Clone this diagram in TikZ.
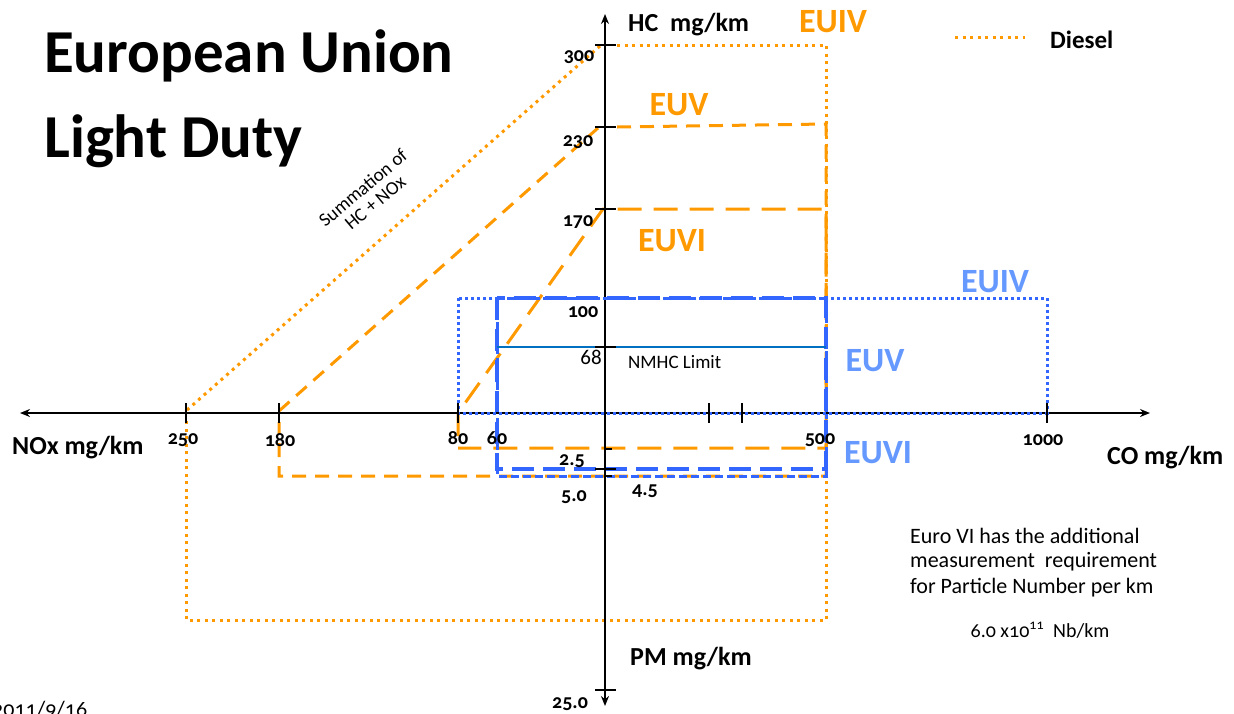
\documentclass[tikz,border=0pt]{standalone}
\usepackage{fontspec}
\setmainfont{Carlito}[Numbers=OldStyle]
\usetikzlibrary{arrows.meta}
\definecolor{ora}{RGB}{255,153,0}
\definecolor{blu}{RGB}{51,102,255}
\definecolor{blul}{RGB}{102,153,255}
\definecolor{nmhc}{RGB}{0,112,192}
\newcommand{\myfs}[1]{\fontsize{#1}{#1}\selectfont}
\begin{document}
\begin{tikzpicture}[x=1pt,y=-1pt,
  lbl/.style={font=\bfseries\myfs{20}, inner sep=0pt},
  axl/.style={font=\bfseries\myfs{26}, inner sep=0pt, anchor=west},
  euo/.style={font=\bfseries\myfs{34}, inner sep=0pt, text=ora},
  eub/.style={font=\bfseries\myfs{34}, inner sep=0pt, text=blul},
  txt/.style={font=\myfs{22}, inner sep=0pt},
  odot/.style={ora, line width=3pt, dash pattern=on 3pt off 4.5pt},
  odash/.style={ora, line width=3pt, dash pattern=on 14pt off 9pt},
  olong/.style={ora, line width=3pt, dash pattern=on 24pt off 12pt},
  bdot/.style={blu, line width=3pt, dash pattern=on 3pt off 3pt},
  blong/.style={blu, line width=3.2pt, dash pattern=on 22pt off 9pt},
  bshort/.style={blu, line width=3pt, dash pattern=on 8pt off 4pt},
  axisline/.style={line width=2pt, {Stealth[length=10pt,width=8pt]}-{Stealth[length=10pt,width=8pt]}},
  tickline/.style={line width=1.6pt}]
\useasboundingbox (0,0) rectangle (1234,713);

% title
\node[font=\bfseries\myfs{61}, anchor=base west, inner sep=0pt] (t1) at (44,72) {European Union};
\node[font=\bfseries\myfs{61}, anchor=base west, inner sep=0pt] (t2) at (44,157) {Light Duty};

% orange (light duty) limits
\draw[odot] (187,410) -- (600,46);
\draw[odot] (617,45) -- (826,45) -- (826,620) -- (186,620) -- (186,418);
\draw[odash] (279,411) -- (598,128);
\draw[odash] (617,127) -- (826,124) -- (826,476) -- (279,476) -- (279,422);
\draw[olong] (458,436) -- (458,413) -- (603,209) -- (826,209) -- (826,448) -- (458,448);

% blue limits
\draw[bshort] (497,298) rectangle (826,476);
\draw[blong] (497,298) rectangle (826,469);
\draw[nmhc, line width=1.2pt] (497,347) -- (826,347);

% axes
\coordinate (xl) at (20,413);
\coordinate (xr) at (1150,413);
\coordinate (yt) at (605,14);
\coordinate (yb) at (605,706);
\draw[axisline] (xl) -- (xr);
\draw[axisline] (yb) -- (yt);

\draw[bdot] (458,298) rectangle (1047,413);

% ticks on horizontal axis
\foreach \xx in {186,279,458,709,742,1047}
  \draw[tickline] (\xx,403) -- (\xx,423);
% ticks on vertical axis
\foreach \yy in {45,127,209,347,469,690}
  \draw[tickline] (595,\yy) -- (616,\yy);
\draw[tickline] (605,449) -- (612,449);
\draw[tickline] (605,476) -- (612,476);

% tick labels
\node[lbl] (n300) at (579,57) {300};
\node[lbl] (n230) at (578,142) {230};
\node[lbl] (n170) at (578,222) {170};
\node[lbl] (n100) at (583,312) {100};
\node[txt, font=\myfs{21}\addfontfeatures{Numbers=Lining}] (n68) at (591,357) {68};
\node[txt, font=\myfs{19}, anchor=west] (nm) at (628,362) {NMHC Limit};
\node[lbl] (n250) at (183,440) {250};
\node[lbl] (n180) at (280,440) {180};
\node[lbl] (n80) at (458,438) {80};
\node[lbl] (n60) at (497,438) {60};
\node[lbl] (n500) at (820,440) {500};
\node[lbl] (n1000) at (1043,440) {1000};
\node[lbl] (n25) at (572,461) {2.5};
\node[lbl] (n45) at (645,491) {4.5};
\node[lbl] (n50) at (574,497) {5.0};
\node[lbl] (n250b) at (570,704) {25.0};

% axis labels
\node[axl] (hc) at (628,25) {HC\ \ mg/km};
\node[axl] (nox) at (12,448) {NOx mg/km};
\node[axl] (co) at (1107,458) {CO mg/km};
\node[axl] (pm) at (630,659) {PM mg/km};

% EU labels
\node[euo] (o4) at (833,22) {EUIV};
\node[euo] (o5) at (679,105) {EUV};
\node[euo] (o6) at (672,241) {EUVI};
\node[eub] (b4) at (995,282) {EUIV};
\node[eub] (b5) at (875,361) {EUV};
\node[eub] (b6) at (878,453) {EUVI};

% legend
\coordinate (lg1) at (955,37);
\coordinate (lg2) at (1025,37);
\draw[odot] (lg1) -- (lg2);
\node[axl, font=\bfseries\myfs{25}] (dies) at (1050,40) {Diesel};

% summation label
\node[font=\myfs{19}, align=center, rotate=40, inner sep=0pt] (sum) at (369,195) {Summation of\\HC + NOx};

% note
\node[txt, anchor=west] (e1) at (910,536) {Euro VI has the additional};
\node[txt, anchor=west] (e2) at (910,562) {measurement\ \ requirement};
\node[txt, anchor=west] (e3) at (910,588) {for Particle Number per km};
\node[txt, font=\myfs{20}] (e4) at (1040,630) {6.0 x10\textsuperscript{11}\ \ Nb/km};

% date
\node[txt, anchor=north west] (date) at (-8,701) {2011/9/16};
\end{tikzpicture}
\end{document}
